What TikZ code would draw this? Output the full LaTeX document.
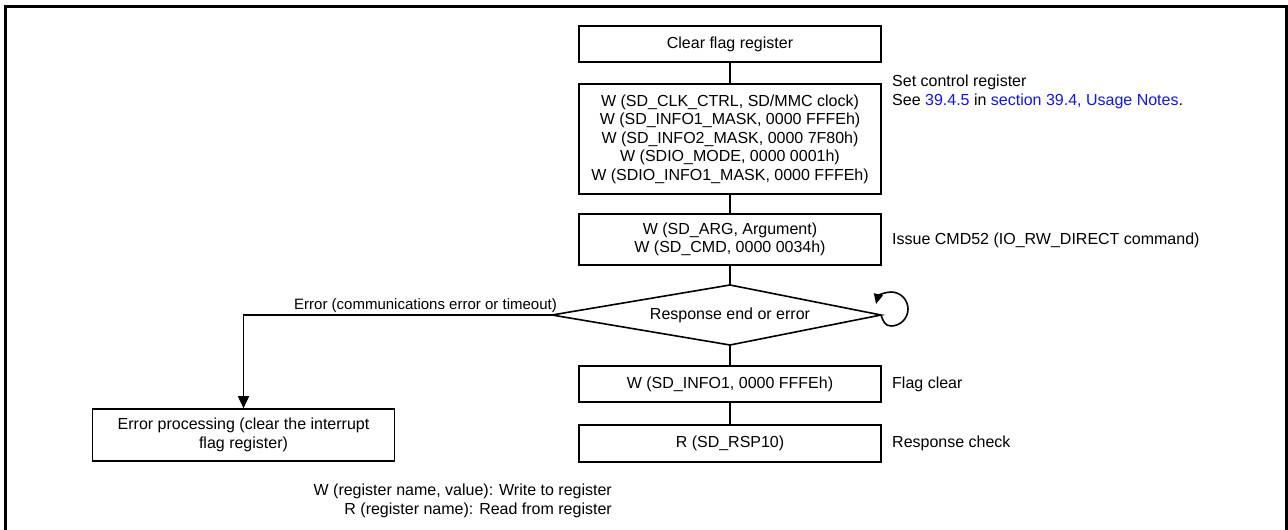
\documentclass[tikz,border=0pt]{standalone}
\usepackage{fontspec}
\setmainfont{Liberation Sans}
\usetikzlibrary{arrows.meta}
\definecolor{linkblue}{RGB}{20,20,235}
\begin{document}
\begin{tikzpicture}[x=1pt,y=-1pt,
  every node/.style={font=\fontsize{16}{18.5}\selectfont},
  stepbox/.style={draw, line width=1.6pt, minimum width=302pt, inner sep=0pt, align=center},
  conn/.style={line width=1.6pt},
  arr/.style={line width=1.6pt, -{Triangle[length=12pt,width=11pt]}},
  looparr/.style={line width=1.6pt, -{Triangle[length=10pt,width=9pt]}},
  note/.style={anchor=west, align=left, inner sep=0pt}]
\useasboundingbox (0,0) rectangle (1288,530);
\draw[line width=3pt] (5.5,530) -- (5.5,6.5) -- (1286.5,6.5) -- (1286.5,530);

\node[stepbox, minimum height=36pt] (clr) at (730,44) {Clear flag register};
\node[stepbox, minimum height=110pt] (ctl) at (730,139) {W (SD\_CLK\_CTRL, SD/MMC clock)\\W (SD\_INFO1\_MASK, 0000 FFFEh)\\W (SD\_INFO2\_MASK, 0000 7F80h)\\W (SDIO\_MODE, 0000 0001h)\\W (SDIO\_INFO1\_MASK, 0000 FFFEh)};
\node[stepbox, minimum height=51pt] (arg) at (730,239.5) {W (SD\_ARG, Argument)\\W (SD\_CMD, 0000 0034h)};
% decision diamond
\coordinate (dN) at (730,285);
\coordinate (dE) at (881,315);
\coordinate (dS) at (730,345);
\coordinate (dW) at (552,315);
\draw[line width=1.6pt, line join=miter] (dN) -- (dE) -- (dS) -- (dW) -- cycle;
\node[inner sep=0pt] (dia) at (730,315) {Response end or error};
\node[stepbox, minimum height=36pt] (flg) at (730,384) {W (SD\_INFO1, 0000 FFFEh)};
\node[stepbox, minimum height=37pt] (rsp) at (730,443.5) {R (SD\_RSP10)};
\node[stepbox, minimum height=52pt] (err) at (243.5,435) {Error processing (clear the interrupt\\flag register)};

\draw[conn] (clr.south) -- (ctl.north);
\draw[conn] (ctl.south) -- (arg.north);
\draw[conn] (arg.south) -- (dN);
\draw[conn] (dS) -- (flg.north);
\draw[conn] (flg.south) -- (rsp.north);
\draw[arr] (dW) -| (err.north);
\draw[looparr] (dE) .. controls (883,321) and (885,326) .. (891,326)
  .. controls (900.4,326) and (908,318.4) .. (908,309)
  .. controls (908,299.6) and (900.4,292) .. (891,292)
  .. controls (884,292) and (878,296) .. (876,304);

\node[anchor=base east, inner sep=0pt, font=\fontsize{15}{17}\selectfont] (elab) at (557,309) {Error (communications error or timeout)};
\node[note] (n1) at (892,92) {Set control register\\See \textcolor{linkblue}{39.4.5} in \textcolor{linkblue}{section 39.4, Usage Notes}.};
\node[note] (n2) at (892,240) {Issue CMD52 (IO\_RW\_DIRECT command)};
\node[note] (n3) at (892,384) {Flag clear};
\node[note] (n4) at (892,443.5) {Response check};
\node[anchor=east, align=right, inner sep=0pt] (leg) at (612,501) {W (register name, value): Write to register\\R (register name): Read from register};
\end{tikzpicture}
\end{document}
